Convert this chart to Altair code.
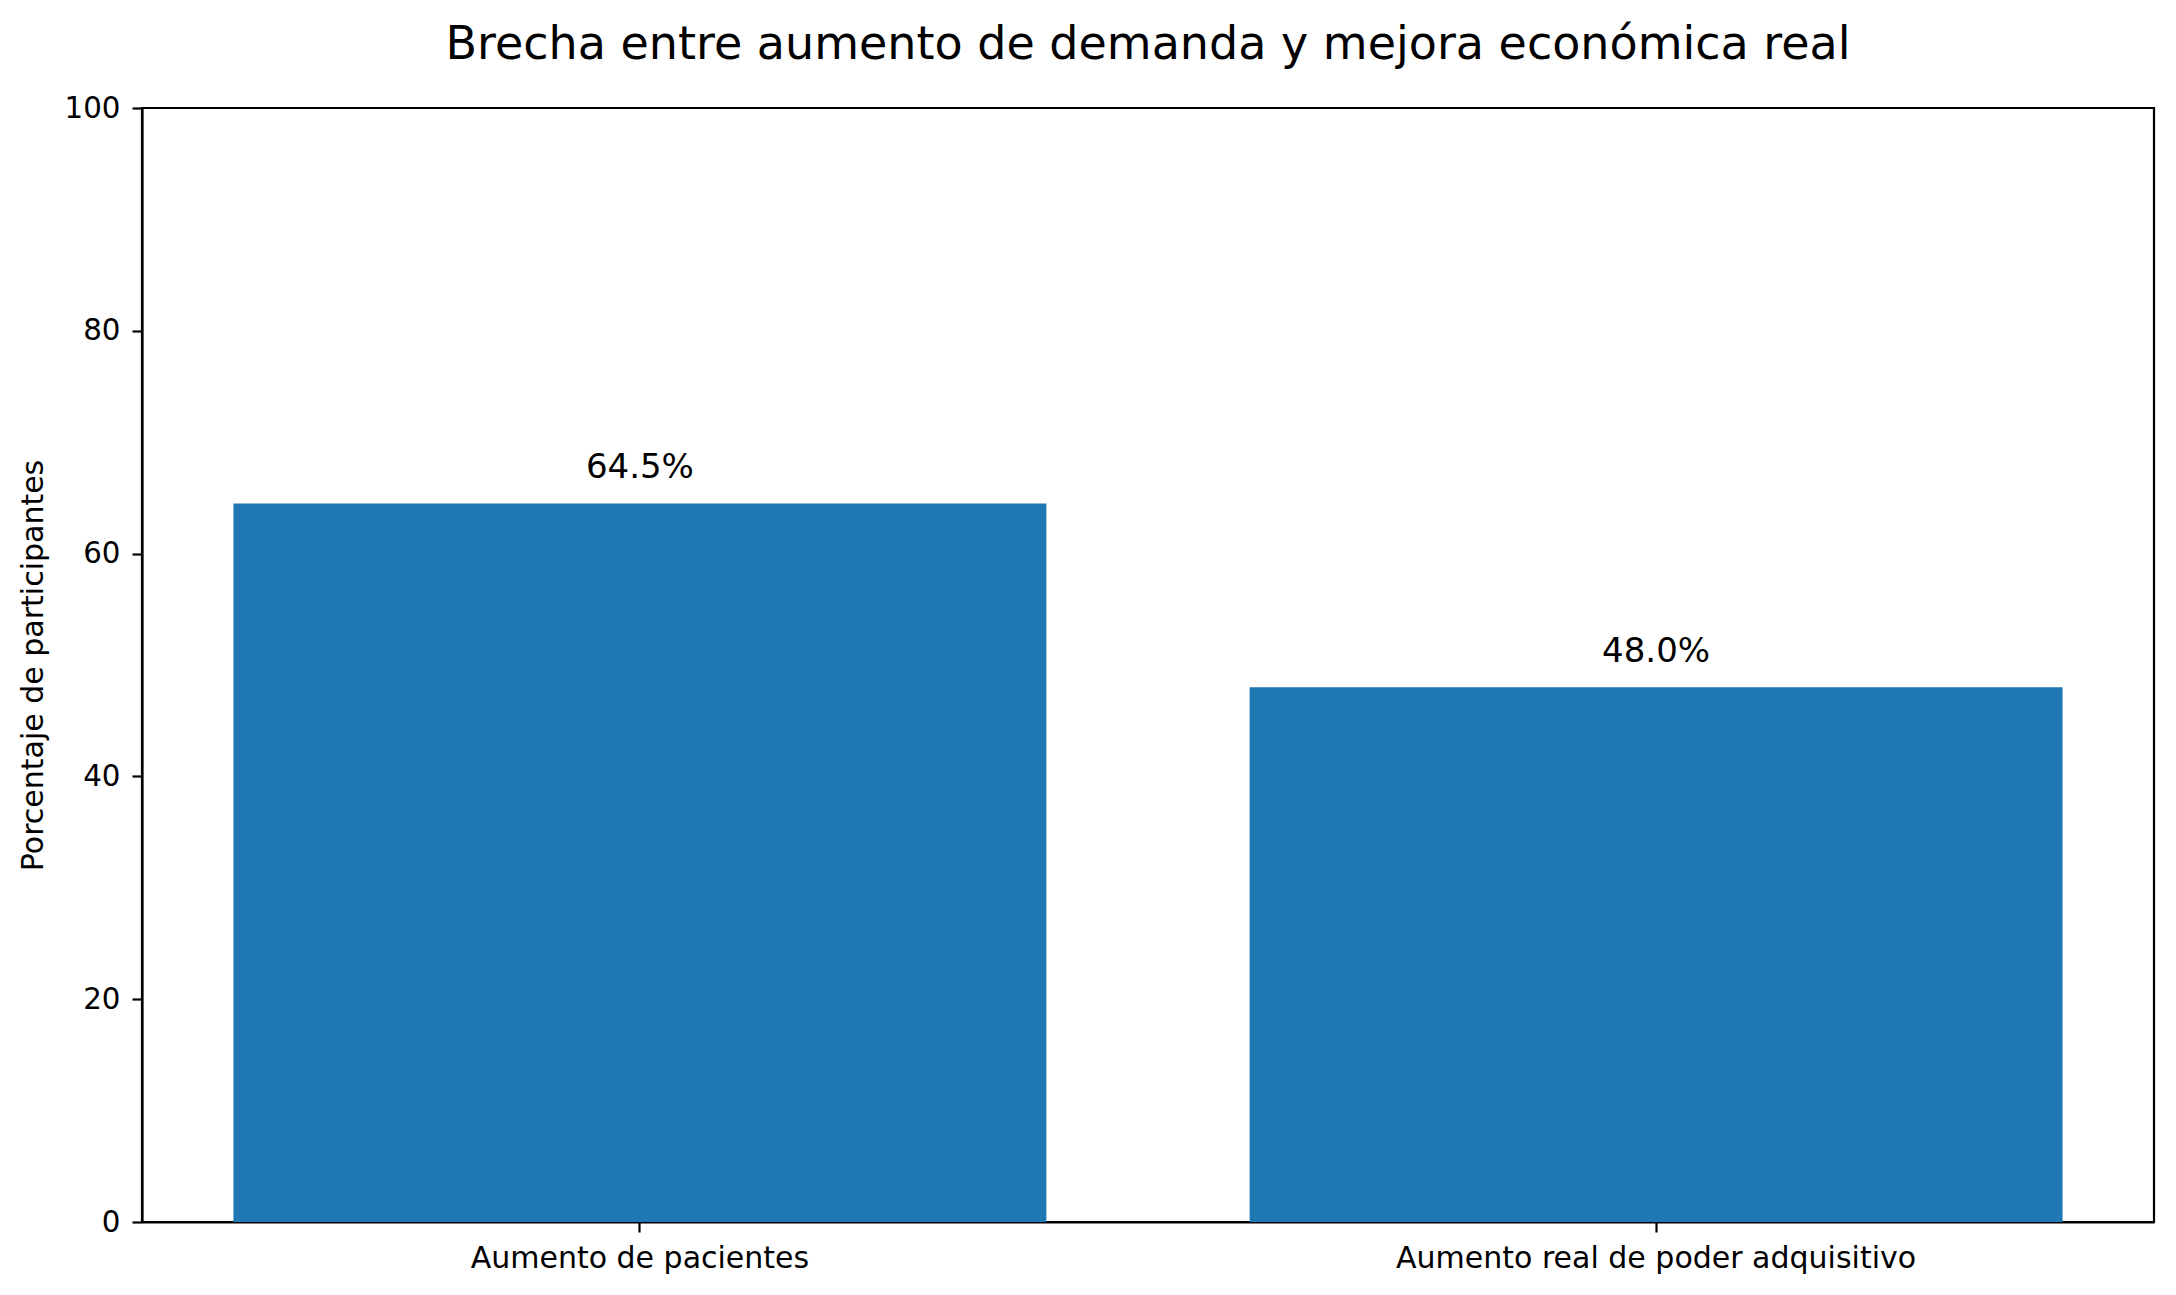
import altair as alt
import pandas as pd

categories = ["Aumento de pacientes", "Aumento real de poder adquisitivo"]
values = [64.5, 48.0]
labels = ["64.5%", "48.0%"]
y_ticks = [0, 20, 40, 60, 80, 100]

df = pd.DataFrame({"cat": categories, "val": values, "lab": labels})

FONT = "DejaVu Sans"
TICK_FS = 30

x_enc = alt.X("cat:N", sort=categories, title=None,
              scale=alt.Scale(paddingInner=0.2, paddingOuter=0.09),
              axis=alt.Axis(labelAngle=0, labelFontSize=TICK_FS, labelFont=FONT,
                            labelColor="black", tickSize=10, tickWidth=2.2,
                            tickColor="black", domainColor="black", domainWidth=2.2,
                            labelPadding=11, labelLimit=0, grid=False))

bars = alt.Chart(df).mark_bar(color="#1f77b4").encode(
    x=x_enc,
    y=alt.Y("val:Q", title="Porcentaje de participantes",
            scale=alt.Scale(domain=[0, 100], nice=False),
            axis=alt.Axis(values=y_ticks, labelFontSize=29.3, labelFont=FONT,
                          labelColor="black", tickSize=10, tickWidth=2.2,
                          tickColor="black", domainColor="black", domainWidth=2.2,
                          labelPadding=12, titleFont=FONT, titleFontSize=30,
                          titleFontWeight="normal", titleColor="black",
                          titlePadding=16, grid=False)),
)

text = alt.Chart(df).transform_calculate(
    ypos="datum.val + 2"
).mark_text(font=FONT, fontSize=34, color="black", baseline="bottom", dy=4).encode(
    x=alt.X("cat:N", sort=categories),
    y=alt.Y("ypos:Q"),
    text="lab:N",
)

chart = alt.layer(bars, text).properties(
    width=2012,
    height=1114,
    title=alt.TitleParams("Brecha entre aumento de demanda y mejora económica real",
                          font=FONT, fontSize=46, fontWeight="normal",
                          color="black", anchor="middle", frame="group", offset=25),
    autosize=alt.AutoSizeParams(type="none"),
    padding={"left": 134, "top": 100, "right": 14, "bottom": 65},
).configure(background="white", view=alt.ViewConfig(stroke="black", strokeWidth=2.2))

chart.save("out.html", embed_options={"renderer": "svg", "actions": False})
